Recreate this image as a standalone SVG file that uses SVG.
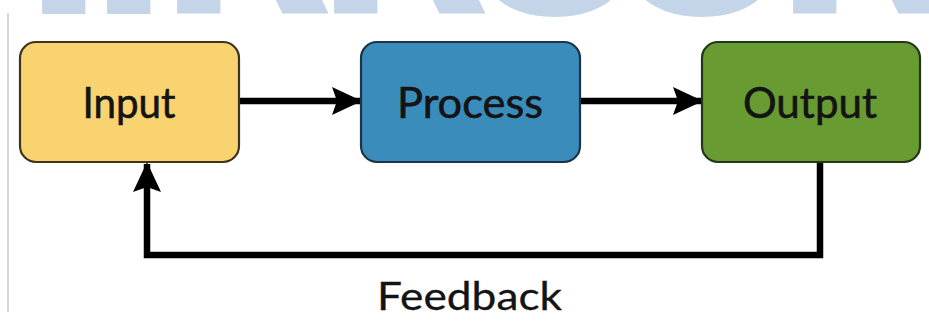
<svg xmlns="http://www.w3.org/2000/svg" width="929" height="327" viewBox="0 0 929 327">
<style>
.node rect{stroke-width:2.2}
.lbl{font-family:Lato,"Open Sans","Liberation Sans",sans-serif;font-size:42px;fill:#141414;stroke:#141414;stroke-width:0.6;text-anchor:middle}
.wm{font-family:"DejaVu Sans","Liberation Sans",sans-serif;font-weight:bold;font-size:230px;fill:#c4d5e9}
.conn{fill:none;stroke:#000;stroke-width:6.5;stroke-linejoin:miter}
</style>
<defs>
<marker id="ah" viewBox="0 0 30 28" refX="28" refY="14" markerWidth="30" markerHeight="28" markerUnits="userSpaceOnUse" orient="auto">
<path d="M0,0 L30,14 L0,28 L5,14 Z" fill="#000"/>
</marker>
</defs>
<rect width="929" height="327" fill="#fff"/>
<g id="watermark">
<text class="wm" x="21 86 156 313 457 604 772" y="14">IIRROOR</text>
</g>
<line x1="8" y1="13" x2="8" y2="312" stroke="#c9c9c9" stroke-width="1.5"/>
<g id="connectors">
<line class="conn" x1="240" y1="101" x2="360" y2="101" marker-end="url(#ah)"/>
<line class="conn" x1="581" y1="101" x2="701" y2="101" marker-end="url(#ah)"/>
<polyline class="conn" points="820,163 820,255 147,255 147,164" marker-end="url(#ah)"/>
</g>
<g id="input" class="node">
<rect x="20" y="42" width="219" height="120" rx="16" fill="#f9d36f" stroke="#3d3420"/>
<text class="lbl" x="129" y="118" textLength="93" lengthAdjust="spacingAndGlyphs">Input</text>
</g>
<g id="process" class="node">
<rect x="361" y="42" width="219" height="120" rx="16" fill="#3a8dbb" stroke="#1d3346"/>
<text class="lbl" x="470" y="118" textLength="146" lengthAdjust="spacingAndGlyphs">Process</text>
</g>
<g id="output" class="node">
<rect x="702" y="42" width="218" height="120" rx="16" fill="#689c33" stroke="#243619"/>
<text class="lbl" x="810" y="118" textLength="134" lengthAdjust="spacingAndGlyphs">Output</text>
</g>
<g id="feedback-label">
<text class="lbl" x="469.5" y="310" textLength="185" lengthAdjust="spacingAndGlyphs" style="font-size:39px;stroke-width:0.3">Feedback</text>
</g>
</svg>
